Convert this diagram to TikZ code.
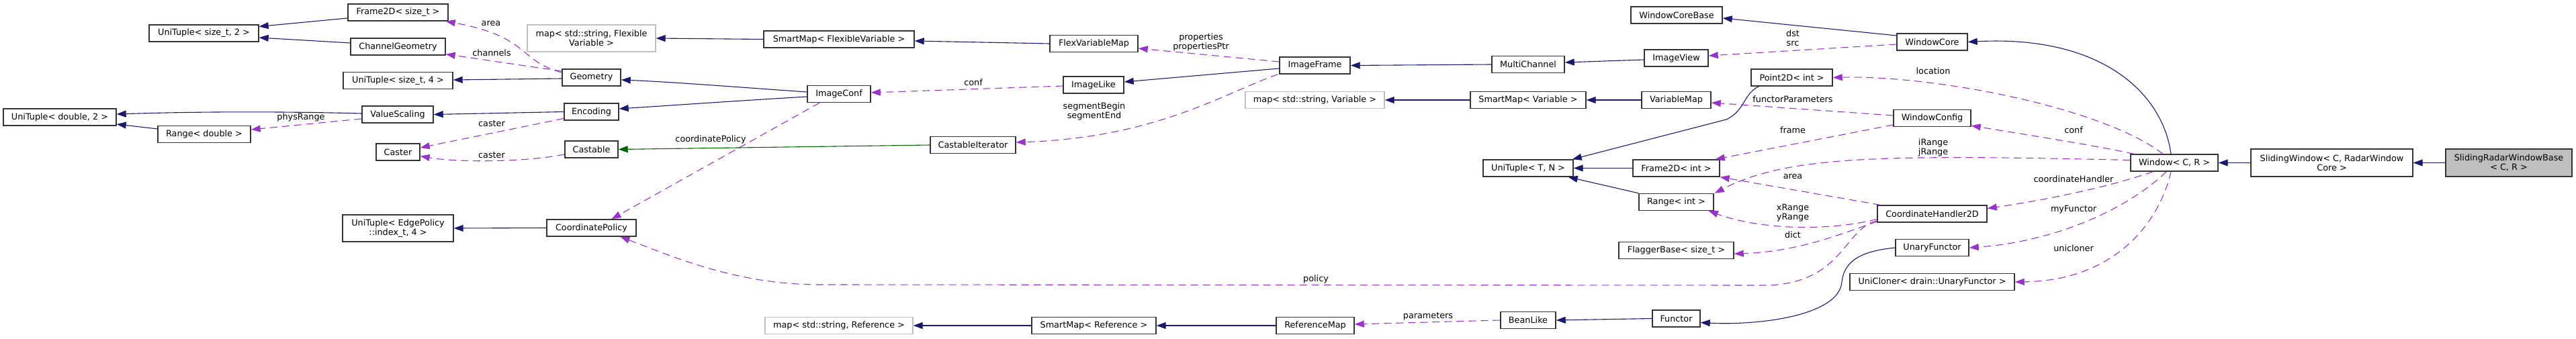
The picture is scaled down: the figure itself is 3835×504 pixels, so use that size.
\documentclass[tikz,border=0pt]{standalone}
\usepackage{fontspec}
\setmainfont{DejaVu Sans}
\usetikzlibrary{arrows.meta}
\definecolor{edgeblue}{HTML}{191970}
\definecolor{edgepurple}{HTML}{9A32CD}
\definecolor{edgegreen}{HTML}{006400}
\definecolor{boxline}{HTML}{333333}
\definecolor{greyline}{HTML}{BFBFBF}
\definecolor{mainfill}{HTML}{BFBFBF}
\newcommand\dxfont{\fontsize{12.8}{14}\selectfont}
\begin{document}
\begin{tikzpicture}[x=1pt,y=-1pt,
  box/.style={draw=boxline, line width=1.4pt, fill=white, inner sep=0pt, align=center, font=\dxfont, minimum height=25},
  gbox/.style={box, draw=greyline},
  lbl/.style={inner sep=0pt, align=center, font=\dxfont},
  tip/.style={-{Triangle[length=14pt,width=10pt]}},
  inh/.style={tip, draw=edgeblue, line width=1.1pt},
  prot/.style={tip, draw=edgegreen, line width=1.1pt},
  use/.style={tip, draw=edgepurple, line width=1.1pt, dash pattern=on 11pt off 7pt}
]
\useasboundingbox (0,0) rectangle (3835,504);
% ---------- nodes ----------
\node[box, fill=mainfill, minimum width=188, minimum height=41] (srwb) at (3735,242.5) {SlidingRadarWindowBase\\< C, R >};
\node[box, minimum width=241, minimum height=41] (sw) at (3471.5,242.5) {SlidingWindow< C, RadarWindow\\Core >};
\node[box, minimum width=130] (win) at (3237,242.5) {Window< C, R >};
\node[box, minimum width=105] (wcore) at (2876.5,62.5) {WindowCore};
\node[box, minimum width=136] (wcb) at (2496,22.5) {WindowCoreBase};
\node[box, minimum width=95] (iview) at (2495.5,86.5) {ImageView};
\node[box, minimum width=121] (p2d) at (2667.5,115.5) {Point2D< int >};
\node[box, minimum width=103] (vmap) at (2495.5,149) {VariableMap};
\node[box, minimum width=115] (wconf) at (2876.5,176) {WindowConfig};
\node[box, minimum width=129] (f2di) at (2495.5,250.5) {Frame2D< int >};
\node[box, minimum width=111] (rint) at (2495.5,301) {Range< int >};
\node[box, minimum width=163] (ch2d) at (2876.5,318.5) {CoordinateHandler2D};
\node[box, minimum width=171] (flag) at (2495.5,373) {FlaggerBase< size\_t >};
\node[box, minimum width=109] (ufun) at (2876.5,369) {UnaryFunctor};
\node[box, minimum width=245] (ucl) at (2876.5,420) {UniCloner< drain::UnaryFunctor >};
\node[box, minimum width=71] (func) at (2495.5,474.5) {Functor};
\node[box, minimum width=108] (mch) at (2275,96) {MultiChannel};
\node[box, minimum width=172] (smv) at (2275,149) {SmartMap< Variable >};
\node[box, minimum width=134] (utn) at (2275,250.5) {UniTuple< T, N >};
\node[box, minimum width=82] (bean) at (2275,477) {BeanLike};
\node[box, minimum width=105] (iframe) at (1957.5,97.5) {ImageFrame};
\node[gbox, minimum width=207] (mapv) at (1957.5,149) {map< std::string, Variable >};
\node[box, minimum width=116] (refmap) at (1958,485) {ReferenceMap};
\node[box, minimum width=131] (fvm) at (1628.5,65) {FlexVariableMap};
\node[box, minimum width=90] (ilike) at (1628,126.5) {ImageLike};
\node[box, minimum width=127] (citer) at (1448.5,216) {CastableIterator};
\node[box, minimum width=185] (smr) at (1628.5,485) {SmartMap< Reference >};
\node[box, minimum width=224] (smf) at (1249,58.5) {SmartMap< FlexibleVariable >};
\node[box, minimum width=94] (iconf) at (1249,140) {ImageConf};
\node[gbox, minimum width=220] (mapr) at (1249,485) {map< std::string, Reference >};
\node[gbox, minimum width=191, minimum height=40] (mapf) at (880.5,57) {map< std::string, Flexible\\Variable >};
\node[box, minimum width=87] (geom) at (880.5,115.5) {Geometry};
\node[box, minimum width=81] (enc) at (880.5,166.5) {Encoding};
\node[box, minimum width=79] (cast) at (880.5,222.5) {Castable};
\node[box, minimum width=133] (cpol) at (880.5,339.5) {CoordinatePolicy};
\node[box, minimum width=149] (f2ds) at (592.5,18.5) {Frame2D< size\_t >};
\node[box, minimum width=141] (chg) at (592.5,69.5) {ChannelGeometry};
\node[box, minimum width=163] (ut4) at (592.5,120) {UniTuple< size\_t, 4 >};
\node[box, minimum width=106] (vs) at (592,170.5) {ValueScaling};
\node[box, minimum width=65] (caster) at (592.5,226.5) {Caster};
\node[box, minimum width=165, minimum height=40] (utep) at (592.5,340) {UniTuple< EdgePolicy\\::index\_t, 4 >};
\node[box, minimum width=163] (ut2s) at (303.5,49.5) {UniTuple< size\_t, 2 >};
\node[box, minimum width=138] (rdbl) at (304,200) {Range< double >};
\node[box, minimum width=168] (ut2d) at (89,174.5) {UniTuple< double, 2 >};
% ---------- labels ----------
\node[lbl] (lphys) at (448,175) {physRange};
\node[lbl] (larea1) at (731,35) {area};
\node[lbl] (lchan) at (732,79) {channels};
\node[lbl] (lcast1) at (732,184) {caster};
\node[lbl] (lcast2) at (732,231) {caster};
\node[lbl] (lcp) at (1058,208) {coordinatePolicy};
\node[lbl] (lconf1) at (1449,123) {conf};
\node[lbl] (lprops) at (1788,63) {properties\\propertiesPtr};
\node[lbl] (lseg) at (1629,165.5) {segmentBegin\\segmentEnd};
\node[lbl] (lpolicy) at (1959,416) {policy};
\node[lbl] (lparams) at (2126,471) {parameters};
\node[lbl] (ldst) at (2669,57) {dst\\src};
\node[lbl] (lloc) at (2878,106) {location};
\node[lbl] (lfp) at (2669,148) {functorParameters};
\node[lbl] (lframe) at (2669,194) {frame};
\node[lbl] (lij) at (2878,219.5) {iRange\\jRange};
\node[lbl] (larea2) at (2669,263) {area};
\node[lbl] (lxy) at (2669,317.5) {xRange\\yRange};
\node[lbl] (ldict) at (2669,350) {dict};
\node[lbl] (lconf2) at (3087,194) {conf};
\node[lbl] (lch) at (3087,267) {coordinateHandler};
\node[lbl] (lmyf) at (3087,312) {myFunctor};
\node[lbl] (lunic) at (3087,370) {unicloner};
% ---------- edges ----------
\draw[inh] (srwb.west) -- (sw.east);
\draw[inh] (sw.west) -- (win.east);
\draw[inh] ([xshift=-5]win.north) .. controls (3220,140) and (3130,52) .. (wcore.east);
\draw[use] ([xshift=-17]win.north) .. controls (3130,160) and (2880,112) .. (p2d.east);
\draw[use] ([xshift=-60]win.north) .. controls (3110,215) and (3000,198) .. ([yshift=2]wconf.south east);
\draw[use] ([yshift=4]win.west) .. controls (2800,230) and (2660,232) .. ([xshift=1]rint.north east);
\draw[use] ([xshift=-32]win.south) .. controls (3130,282) and (3030,300) .. ([yshift=8]ch2d.east);
\draw[use] ([xshift=-12]win.south) .. controls (3170,310) and (3060,360) .. (ufun.east);
\draw[use] ([xshift=-5]win.south) .. controls (3215,330) and (3150,418) .. (ucl.east);
\draw[inh] ([yshift=9.5]wcore.west) -- ([yshift=-4.5]wcb.east);
\draw[use] ([yshift=-3.5]wcore.west) -- ([yshift=3.5]iview.east);
\draw[inh] ([yshift=-2.5]iview.west) -- ([yshift=3]mch.east);
\draw[inh] (mch.west) -- (iframe.east);
\draw[use] ([yshift=5.5]iframe.west) -- ([yshift=-7]fvm.east);
\draw[inh] ([yshift=-4.5]iframe.west) -- ([yshift=4.5]ilike.east);
\draw[use] ([xshift=-2]iframe.south west) .. controls (1820,140) and (1720,205) .. ([yshift=4]citer.east);
\draw[inh] (fvm.west) -- ([yshift=-2.5]smf.east);
\draw[inh] (smf.west) -- (mapf.east);
\draw[use] ([yshift=-1.5]ilike.west) -- ([yshift=2]iconf.east);
\draw[inh] ([yshift=3]iconf.west) .. controls (1100,130) and (1000,122) .. ([yshift=-3.5]geom.east);
\draw[inh] ([yshift=-4]iconf.west) .. controls (1100,150) and (1000,157) .. ([yshift=4.5]enc.east);
\draw[use] ([xshift=-29]iconf.south) -- ([xshift=30]cpol.north);
\draw[prot] (citer.west) -- (cast.east);
\draw[use] ([yshift=7.5]geom.west) .. controls (770,90) and (790,55) .. ([xshift=-4]f2ds.south east);
\draw[use] ([yshift=9.5]geom.west) -- ([yshift=2]chg.south east);
\draw[inh] ([yshift=-1.5]geom.west) -- ([yshift=1]ut4.east);
\draw[inh] (enc.west) -- (vs.east);
\draw[use] ([yshift=-10]enc.west) -- ([yshift=6.5]caster.east);
\draw[use] ([yshift=-7.5]cast.west) .. controls (780,242) and (680,242) .. ([yshift=-6]caster.east);
\draw[inh] ([yshift=1.5]vs.west) .. controls (420,166) and (300,166) .. ([yshift=4.5]ut2d.east);
\draw[use] ([yshift=-6.5]vs.west) -- ([yshift=7]rdbl.east);
\draw[inh] ([yshift=8]rdbl.west) -- ([yshift=-10.5]ut2d.east);
\draw[inh] ([yshift=-8.5]f2ds.west) -- ([yshift=10]ut2s.east);
\draw[inh] ([yshift=5.5]chg.west) -- ([yshift=-6.5]ut2s.east);
\draw[inh] (cpol.west) -- (utep.east);
\draw[use] ([yshift=-10.5]ch2d.west) .. controls (2745,340) and (2745,420) .. (2633,425)
   -- (1220,424) .. controls (1100,424) and (1008,385) .. ([xshift=43]cpol.south);
\draw[use] ([xshift=5]ch2d.north west) -- (f2di.south east);
\draw[use] ([yshift=-8]ch2d.west) .. controls (2720,345) and (2620,342) .. ([xshift=-8]rint.south east);
\draw[use] ([yshift=-11.5]ch2d.west) .. controls (2750,345) and (2680,375) .. ([yshift=-5]flag.east);
\draw[use] ([yshift=4]wconf.west) -- ([yshift=-4]vmap.east);
\draw[use] ([yshift=-10]wconf.west) -- ([xshift=-7]f2di.north east);
\draw[inh] (vmap.west) -- (smv.east);
\draw[inh] (smv.west) -- (mapv.east);
\draw[inh] ([xshift=-49]p2d.south) .. controls (2595,140) and (2598,165) .. (2570,178) -- ([xshift=-2]utn.north east);
\draw[inh] (f2di.west) -- (utn.east);
\draw[inh] (rint.north west) -- ([xshift=-8]utn.south east);
\draw[inh] (ufun.west) .. controls (2760,375) and (2745,395) .. (2742,420) .. controls (2738,470) and (2620,485) .. ([yshift=-6]func.east);
\draw[inh] (func.west) -- (bean.east);
\draw[use] (bean.west) -- ([yshift=2]refmap.east);
\draw[inh] (refmap.west) -- (smr.east);
\draw[inh] (smr.west) -- (mapr.east);
\end{tikzpicture}
\end{document}
